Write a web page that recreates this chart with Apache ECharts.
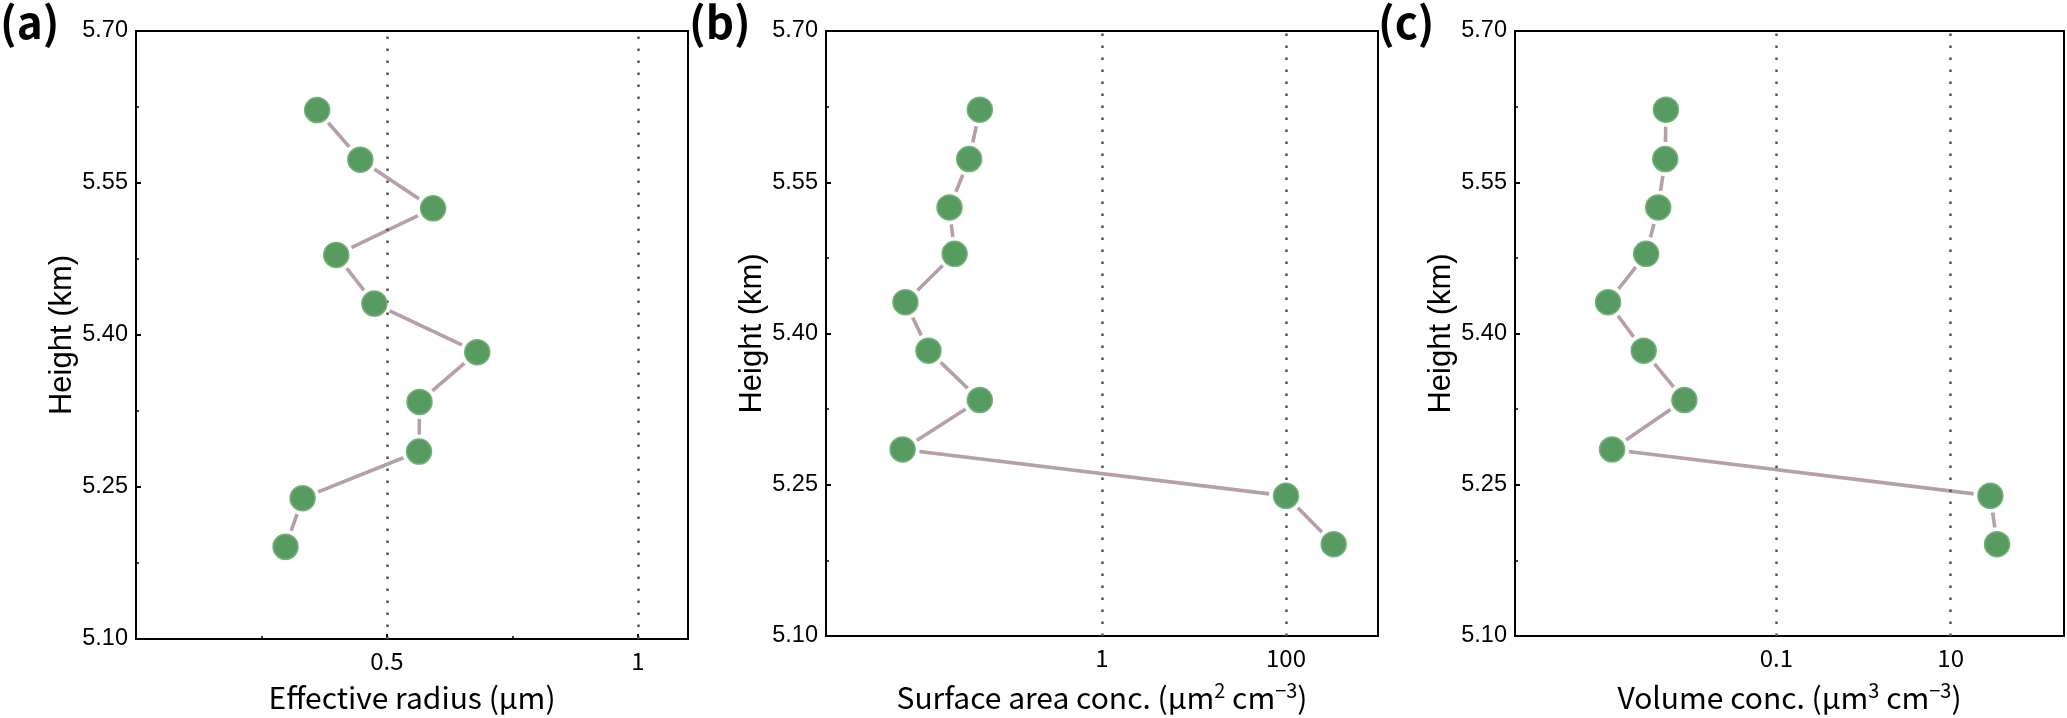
<!DOCTYPE html>
<html>
<head>
<meta charset="utf-8">
<script src="https://cdn.jsdelivr.net/npm/echarts@6/dist/echarts.min.js"></script>
<style>
html,body{margin:0;padding:0;background:#fff;}
#chart{width:2067px;height:718px;}
</style>
</head>
<body>
<div id="chart"></div>
<script>
// ---- data ----
const heights = [5.622, 5.573, 5.525, 5.479, 5.431, 5.383, 5.334, 5.285, 5.239, 5.191];
const effectiveRadius = [0.361, 0.447, 0.592, 0.399, 0.475, 0.680, 0.565, 0.564, 0.332, 0.298];
const surfaceAreaConc = [0.047, 0.036, 0.022, 0.025, 0.0073, 0.013, 0.047, 0.0068, 100, 330];
const volumeConc = [0.0054, 0.0053, 0.0044, 0.0032, 0.00117, 0.0030, 0.0088, 0.0013, 28.6, 34.1];
const panelLabels = ['(a)', '(b)', '(c)'];
const refLinesA = [0.5, 1];
const refLinesB = [1, 100];
const refLinesC = [0.1, 10];
const tickLabelsA = ['0.5', '1'];
const tickLabelsB = ['1', '100'];
const tickLabelsC = ['0.1', '10'];
const yTicks = { min: 5.10, max: 5.70, step: 0.15 };

// ---- layout ----
const grids = [
  { left: 136, top: 31, width: 552, height: 608 },
  { left: 826, top: 31, width: 552, height: 608 },
  { left: 1515, top: 31, width: 550, height: 608 }
];
const labelX = [0, 689, 1378];

const chart = echarts.init(document.getElementById('chart'), null, { renderer: 'canvas' });

const lineColor = '#b79eab';
const dotColor = '#579b60';
const dotBorder = '#72b279';

const xFont = 'Noto Sans CJK SC';
const yFont = 'Liberation Sans';

function showOnly(list) {
  return v => {
    const s = String(+(+v).toPrecision(6));
    return list.indexOf(s) >= 0 ? s : '';
  };
}

function baseX(i) {
  return {
    gridIndex: i,
    nameLocation: 'middle',
    nameGap: 44,
    nameTextStyle: { color: '#000', fontSize: 30, fontFamily: xFont },
    axisLine: { show: true, lineStyle: { color: '#000', width: 2 } },
    splitLine: { show: false },
    axisTick: { show: false }
  };
}

const xLabelStyle = { color: '#000', fontSize: 24, fontFamily: xFont, margin: 10 };

const xAxes = [
  Object.assign(baseX(0), {
    type: 'value', min: 0, max: 1.1, interval: 0.5,
    name: 'Effective radius (μm)',
    axisTick: { show: true, inside: true, length: 5, lineStyle: { color: '#000', width: 2 } },
    minorTick: { show: true, splitNumber: 2, length: 3, lineStyle: { color: '#000', width: 1.5 } },
    axisLabel: Object.assign({}, xLabelStyle, { formatter: showOnly(tickLabelsA) })
  }),
  Object.assign(baseX(1), {
    type: 'log', logBase: 10, min: 0.001, max: 1000,
    name: '{n|Surface area conc. (μm}{s|2}{n| cm}{s|−3}{n|)}',
    axisLabel: Object.assign({}, xLabelStyle, { formatter: showOnly(tickLabelsB) })
  }),
  Object.assign(baseX(2), {
    type: 'log', logBase: 10, min: 0.0001, max: 200,
    name: '{n|Volume conc. (μm}{s|3}{n| cm}{s|−3}{n|)}',
    axisLabel: Object.assign({}, xLabelStyle, { formatter: showOnly(tickLabelsC) })
  })
];
const richName = {
  n: { fontSize: 30, fontFamily: xFont, color: '#000', lineHeight: 36 },
  s: { fontSize: 20, fontFamily: xFont, color: '#000', lineHeight: 20, verticalAlign: 'top' }
};
xAxes[1].nameTextStyle = Object.assign({}, xAxes[1].nameTextStyle, { rich: richName });
xAxes[2].nameTextStyle = Object.assign({}, xAxes[2].nameTextStyle, { rich: richName });

const yAxes = [0, 1, 2].map(i => ({
  gridIndex: i,
  type: 'value',
  min: yTicks.min, max: yTicks.max, interval: yTicks.step,
  name: 'Height (km)',
  nameLocation: 'middle',
  nameGap: 53,
  nameTextStyle: { color: '#000', fontSize: 31, fontFamily: yFont },
  axisLine: { show: true, lineStyle: { color: '#000', width: 2 } },
  axisTick: { show: true, inside: true, length: 5, lineStyle: { color: '#000', width: 2 } },
  minorTick: { show: true, splitNumber: 2, length: 3, lineStyle: { color: '#000', width: 1.5 } },
  splitLine: { show: false },
  axisLabel: { color: '#000', fontSize: 23.5, fontFamily: yFont, margin: 8,
    formatter: v => v.toFixed(2) }
}));

const xSets = [effectiveRadius, surfaceAreaConc, volumeConc];
const refSets = [refLinesA, refLinesB, refLinesC];
const series = [];
xSets.forEach((xs, i) => {
  const pts = xs.map((x, k) => [x, heights[k]]);
  series.push({
    type: 'line', xAxisIndex: i, yAxisIndex: i, data: pts, symbol: 'none',
    lineStyle: { color: lineColor, width: 3.6 }, z: 2, silent: true
  });
  series.push({
    type: 'scatter', xAxisIndex: i, yAxisIndex: i, data: pts, symbolSize: 34,
    itemStyle: { color: '#ffffff', opacity: 1 }, z: 3, silent: true
  });
  series.push({
    type: 'line', xAxisIndex: i, yAxisIndex: i, data: [], z: 4, silent: true,
    markLine: {
      silent: true, symbol: 'none', label: { show: false },
      lineStyle: { color: '#555555', type: [2.5, 9.5], width: 2.5 },
      data: refSets[i].map(v => ({ xAxis: v }))
    }
  });
  series.push({
    type: 'scatter', xAxisIndex: i, yAxisIndex: i, data: pts, symbolSize: 25,
    itemStyle: { color: dotColor, borderColor: dotBorder, borderWidth: 1.5, opacity: 1 }, z: 5, silent: true
  });
});

chart.setOption({
  animation: false,
  backgroundColor: '#ffffff',
  grid: grids.map(g => Object.assign({ show: true, borderColor: '#000', borderWidth: 2, backgroundColor: 'transparent' }, g)),
  xAxis: xAxes,
  yAxis: yAxes,
  series: series,
  graphic: panelLabels.map((t, i) => ({
    type: 'text', left: labelX[i], top: 0,
    style: { text: t, fontSize: 44, fontWeight: 'bold', fontFamily: xFont, fill: '#000' }
  }))
});
</script>
</body>
</html>
